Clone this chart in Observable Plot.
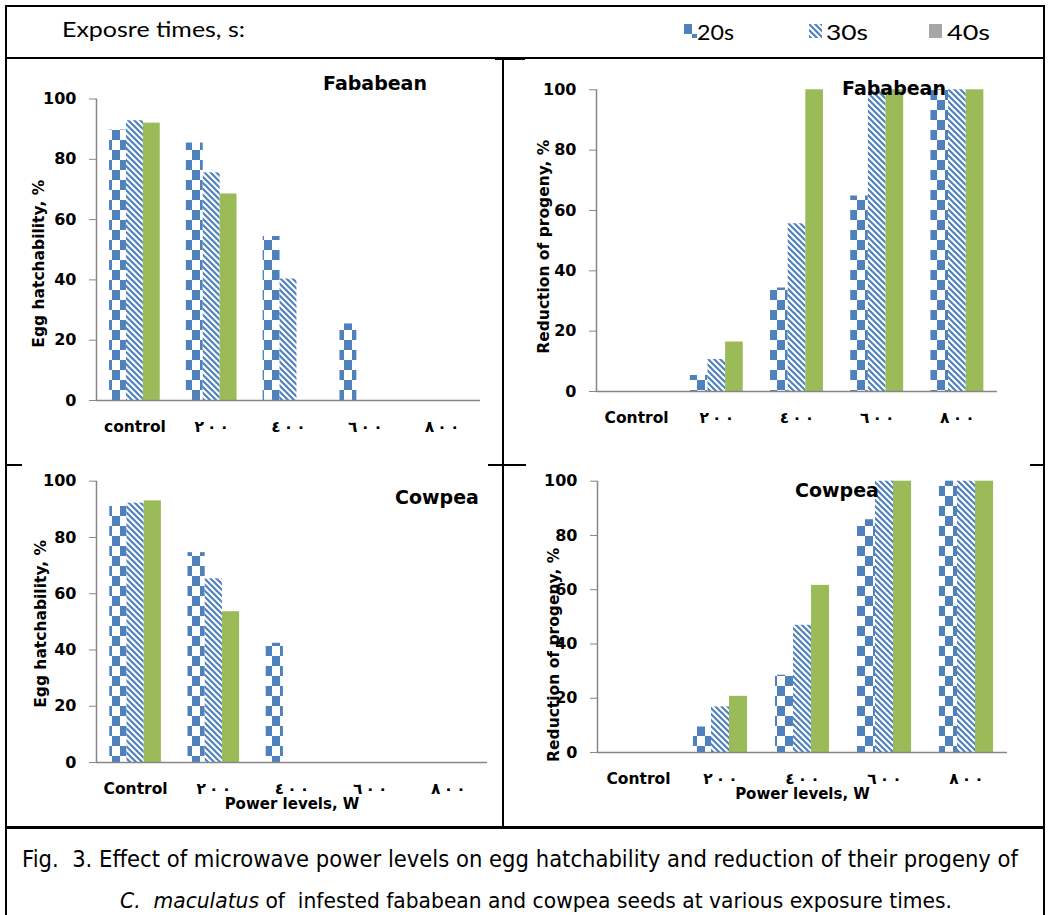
<!DOCTYPE html>
<html><head><meta charset="utf-8">
<script src="https://cdn.jsdelivr.net/npm/d3@7"></script>
<script src="https://cdn.jsdelivr.net/npm/@observablehq/plot@0.6"></script>
<style>
html,body{margin:0;padding:0;background:#fff;}
body{width:1048px;height:915px;overflow:hidden;position:relative;font-family:"DejaVu Sans",sans-serif;}
.ln{position:absolute;background:#000;}
.txt{position:absolute;white-space:pre;line-height:1;transform-origin:0 50%;}
.ttl{position:absolute;white-space:pre;line-height:1;font-family:"DejaVu Sans",sans-serif;font-weight:bold;font-size:19px;transform:translate(-50%,-50%);}
g[aria-label="y-axis tick"]{stroke:#868686;}
g[aria-label="y-axis label"]{font-size:15.5px;}
g[aria-label="x-axis tick label"]{font-size:15.5px;}
g[aria-label="x-axis label"]{font-size:15px;}
</style></head><body>
<svg width="0" height="0" style="position:absolute;left:0;top:0"><defs>
<pattern id="p20" patternUnits="userSpaceOnUse" width="16" height="20">
<rect width="16" height="20" fill="#fff"/>
<rect x="0" y="0" width="8" height="10" fill="#4F81BD"/>
<rect x="8" y="10" width="8" height="10" fill="#4F81BD"/>
</pattern>
<pattern id="p30" patternUnits="userSpaceOnUse" width="6" height="6">
<rect width="6" height="6" fill="#fff"/>
<path d="M-1,-1L7,7M-4,2L2,8M2,-4L8,2" stroke="#4F81BD" stroke-width="2.2"/>
</pattern>
</defs></svg>
<script>
// ---- data ----
const levelsA = ["control", "٢٠٠", "٤٠٠", "٦٠٠", "٨٠٠"];
const levelsB = ["Control", "٢٠٠", "٤٠٠", "٦٠٠", "٨٠٠"];
const times = ["20s", "30s", "40s"];
const yTicks = [0, 20, 40, 60, 80, 100];

const fabaHatch20 = [89.7, 85.4, 54.4, 25.4, 0];
const fabaHatch30 = [92.8, 75.5, 40.3, 0, 0];
const fabaHatch40 = [92.0, 68.5, 0, 0, 0];

const fabaRed20 = [0, 5.3, 34.3, 64.8, 100];
const fabaRed30 = [0, 10.6, 55.6, 100, 100];
const fabaRed40 = [0, 16.4, 100, 100, 100];

const cowHatch20 = [91.0, 74.6, 42.4, 0, 0];
const cowHatch30 = [92.2, 65.3, 0, 0, 0];
const cowHatch40 = [93.0, 53.6, 0, 0, 0];

const cowRed20 = [0, 9.4, 28.5, 85.8, 100];
const cowRed30 = [0, 16.8, 46.9, 100, 100];
const cowRed40 = [0, 20.7, 61.6, 100, 100];

const fills = ["url(#p20)", "url(#p30)", "#9BBB59"];
const legendFills = ["url(#p20)", "url(#p30)", "#A6A6A6"];

const root = document.body;

function line(x, y, w, h) {
  const d = document.createElement("div");
  d.className = "ln";
  Object.assign(d.style, {left: x + "px", top: y + "px", width: w + "px", height: h + "px"});
  root.appendChild(d);
}
function text(str, x, y, size, family, weight, targetW, style) {
  const d = document.createElement("div");
  d.className = "txt";
  d.style.left = x + "px";
  d.style.fontSize = size + "px";
  d.style.fontFamily = family;
  d.style.fontWeight = weight || "normal";
  if (style) d.style.fontStyle = style;
  if (typeof str === "string") d.textContent = str; else d.innerHTML = str.html;
  root.appendChild(d);
  const r = d.getBoundingClientRect();
  d.style.top = (y - r.height / 2) + "px";
  if (targetW) d.style.transform = `scaleX(${targetW / r.width})`;
  return d;
}
function title(str, cx, cy) {
  const d = document.createElement("div");
  d.className = "ttl";
  d.textContent = str;
  d.style.left = cx + "px"; d.style.top = cy + "px";
  root.appendChild(d);
}
// Arabic-Indic numerals are set with a thin space between digits, as in the source;
// left-to-right marks keep the digit order intact.
const spaced = s => /^[\u0660-\u0669]+$/.test(s) ? s.split("").join("\u200E\u2009\u200E") : s;

function panel(cfg) {
  const rows = [];
  cfg.series.forEach((vals, s) => vals.forEach((v, i) => rows.push({i, s, v})));
  const g = 0.66, bw = g / 3, off = (1 - g) / 2;
  const p = Plot.plot({
    width: cfg.width, height: cfg.height,
    marginLeft: cfg.ml, marginRight: cfg.mr, marginTop: cfg.mt, marginBottom: cfg.mb,
    style: {fontFamily: "'DejaVu Sans', sans-serif", fontWeight: "bold", fontSize: "16px", color: "#000", background: "none", overflow: "visible"},
    color: {type: "identity"},
    x: {domain: [0, cfg.labels.length]},
    y: {domain: [0, 100]},
    marks: [
      Plot.rect(rows, {
        x1: d => d.i + off + d.s * bw,
        x2: d => d.i + off + (d.s + 1) * bw,
        y1: 0, y2: "v",
        fill: d => fills[d.s]
      }),
      Plot.ruleX([0], {stroke: "#868686", strokeWidth: 1.5}),
      Plot.ruleY([0], {stroke: "#868686", strokeWidth: 1.5}),
      Plot.axisY({ticks: yTicks, tickSize: 7, tickPadding: 13, label: cfg.ylabel, labelAnchor: "center", labelArrow: "none", labelOffset: cfg.ylo}),
      Plot.axisX({
        ticks: cfg.labels.map((_, i) => i + 0.5),
        tickFormat: t => spaced(cfg.labels[Math.round(t - 0.5)]),
        tickSize: 0, tickPadding: 20,
        label: cfg.xlabel || null, labelAnchor: "center", labelArrow: "none", labelOffset: cfg.xlo
      })
    ]
  });
  // shift the y-axis title along the axis as in the source
  const yl = d3.select(p).select('g[aria-label="y-axis label"]');
  const prev = yl.attr("transform") || "";
  yl.attr("transform", `translate(0,${cfg.ydy}) ${prev}`);
  p.style.position = "absolute";
  p.style.left = cfg.left + "px";
  p.style.top = cfg.top + "px";
  root.appendChild(p);
}

// ---- table lines ----
line(6, 5, 1039, 1.5);
line(5, 5, 2, 910);
line(1043, 5, 2, 910);
line(6, 57, 1039, 2);
line(495, 57, 30, 3);
line(502, 57, 1.5, 770);
line(6, 464, 16, 2);
line(488, 464, 38, 2);
line(1030, 464, 15, 2);
line(6, 826, 1039, 2.5);

// ---- header + legend ----
text("Exposre times, s:", 62, 28, 21, "Lato, sans-serif", "normal", 183);
const sw = [[684, 24], [809, 24], [929, 24]];
const lx = [697, 826, 947];
times.forEach((t, k) => {
  const s = document.createElementNS("http://www.w3.org/2000/svg", "svg");
  s.setAttribute("width", 13); s.setAttribute("height", 14);
  Object.assign(s.style, {position: "absolute", left: sw[k][0] + "px", top: sw[k][1] + "px"});
  const r = document.createElementNS("http://www.w3.org/2000/svg", "rect");
  r.setAttribute("width", 13); r.setAttribute("height", 14);
  r.setAttribute("fill", legendFills[k]);
  if (k === 0) { r.setAttribute("x", -3); r.setAttribute("y", -6); r.setAttribute("width", 16); r.setAttribute("height", 20); }
  s.appendChild(r);
  root.appendChild(s);
  text(t, lx[k], 31, 21, "Lato, sans-serif", "normal", [37, 42, 43][k]);
});

// ---- panels ----
panel({series: [fabaHatch20, fabaHatch30, fabaHatch40], labels: levelsA, ylabel: "Egg hatchability, %",
  left: 8, top: 60, width: 488, height: 400, ml: 88, mr: 16, mt: 38.5, mb: 60, ylo: 64, ydy: 14});
panel({series: [fabaRed20, fabaRed30, fabaRed40], labels: levelsB, ylabel: "Reduction of progeny, %",
  left: 505, top: 60, width: 535, height: 400, ml: 91, mr: 43, mt: 29.3, mb: 69, ylo: 59, ydy: 6});
panel({series: [cowHatch20, cowHatch30, cowHatch40], labels: levelsB, ylabel: "Egg hatchability, %", xlabel: "Power levels, W",
  left: 8, top: 466, width: 488, height: 360, ml: 88, mr: 9, mt: 14.7, mb: 64, ylo: 62, xlo: 46, ydy: 2});
panel({series: [cowRed20, cowRed30, cowRed40], labels: levelsB, ylabel: "Reduction of progeny, %", xlabel: "Power levels, W",
  left: 505, top: 466, width: 535, height: 360, ml: 92, mr: 33, mt: 14.7, mb: 74, ylo: 50, xlo: 46, ydy: 38});

title("Fababean", 375, 83);
title("Fababean", 894, 88);
title("Cowpea", 437, 497);
title("Cowpea", 837, 490);

// ---- caption ----
text("Fig.  3. Effect of microwave power levels on egg hatchability and reduction of their progeny of", 22, 859, 23, "'DejaVu Sans', sans-serif", "normal", 996);
text({html: "<i>C.  maculatus</i> of  infested fababean and cowpea seeds at various exposure times."}, 120, 901, 21, "'DejaVu Sans', sans-serif", "normal", 832);
</script>
</body></html>
